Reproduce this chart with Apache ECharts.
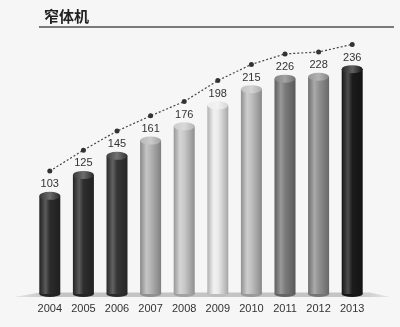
<!DOCTYPE html>
<html>
<head>
<meta charset="utf-8">
<script src="https://cdn.jsdelivr.net/npm/echarts@6/dist/echarts.min.js"></script>
<style>
  html, body { margin: 0; padding: 0; background: #f6f6f6; }
  #chart { width: 400px; height: 327px; }
</style>
</head>
<body>
<div id="chart"></div>
<script>
// Annual figures for narrow-body aircraft
const years = ['2004', '2005', '2006', '2007', '2008', '2009', '2010', '2011', '2012', '2013'];
const units = [103, 125, 145, 161, 176, 198, 215, 226, 228, 236];
const title = '窄体机';

// Grey tone of each cylinder
const tones = ['#2c2c2c', '#2e2e2e', '#363636', '#b4b4b4', '#c9c9c9', '#ececec', '#c0c0c0', '#7c7c7c', '#929292', '#1c1c1c'];

function mix(hex, target, t) {
  const n = parseInt(hex.slice(1), 16);
  const ch = [(n >> 16) & 255, (n >> 8) & 255, n & 255].map(v => Math.round(v + (target - v) * t));
  return 'rgb(' + ch.join(',') + ')';
}
function tube(c) {
  return new echarts.graphic.LinearGradient(0, 0, 1, 0, [
    { offset: 0, color: mix(c, 0, 0.25) },
    { offset: 0.3, color: mix(c, 255, 0.22) },
    { offset: 0.5, color: c },
    { offset: 0.85, color: mix(c, 0, 0.2) },
    { offset: 1, color: mix(c, 0, 0.3) }
  ]);
}
function cap(c) {
  return new echarts.graphic.LinearGradient(0, 0, 1, 0, [
    { offset: 0, color: mix(c, 255, 0.05) },
    { offset: 0.5, color: mix(c, 255, 0.3) },
    { offset: 1, color: mix(c, 0, 0.1) }
  ]);
}

const chart = echarts.init(document.getElementById('chart'));
const font = 'Arial, "Liberation Sans", sans-serif';
const AXIS_MAX = 275;
const LIFT = 26; // trend line sits above the cylinders

chart.setOption({
  backgroundColor: '#f6f6f6',
  animation: false,
  title: {
    text: title, left: 39, top: 4,
    textStyle: { fontFamily: '"Noto Sans CJK SC", sans-serif', fontSize: 15, fontWeight: 'bold', color: '#222' }
  },
  graphic: [
    { type: 'rect', shape: { x: 39, y: 26, width: 355, height: 2 }, style: { fill: '#7a7a7a' } },
    {
      type: 'polygon', z: 0,
      shape: { points: [[14, 297], [40, 292.5], [370, 292.5], [390, 297]] },
      style: {
        fill: new echarts.graphic.LinearGradient(0, 0, 1, 0, [
          { offset: 0, color: 'rgba(190,190,190,0.3)' },
          { offset: 0.1, color: '#c4c4c4' },
          { offset: 0.9, color: '#c4c4c4' },
          { offset: 1, color: 'rgba(190,190,190,0.3)' }
        ])
      }
    }
  ],
  grid: { left: 33, right: 31, top: 32, bottom: 33 },
  xAxis: {
    type: 'category', data: years,
    axisLine: { show: false }, axisTick: { show: false },
    axisLabel: { fontFamily: font, fontSize: 11, color: '#333', margin: 9 }
  },
  yAxis: [
    { type: 'value', min: 0, max: AXIS_MAX, show: false },
    { type: 'value', min: -LIFT, max: AXIS_MAX - LIFT, show: false }
  ],
  series: [
    {
      type: 'bar', barWidth: 21, z: 2,
      data: units.map((v, i) => ({ value: v, itemStyle: { color: tube(tones[i]) } })),
      label: { show: true, position: 'top', distance: 6, fontFamily: font, fontSize: 11, color: '#333' }
    },
    {
      type: 'pictorialBar', symbol: 'circle', symbolSize: [21, 8], symbolPosition: 'end',
      symbolOffset: [0, '-50%'], z: 3,
      data: units.map((v, i) => ({ value: v, itemStyle: { color: cap(tones[i]) } }))
    },
    {
      type: 'pictorialBar', symbol: 'circle', symbolSize: [21, 6], symbolPosition: 'start',
      symbolOffset: [0, '50%'], z: 1,
      data: units.map((v, i) => ({ value: v, itemStyle: { color: mix(tones[i], 0, 0.2) } }))
    },
    {
      type: 'line', yAxisIndex: 1, data: units, z: 4,
      symbol: 'circle', symbolSize: 5,
      lineStyle: { color: '#444', width: 1.2, type: [2, 2] },
      itemStyle: { color: '#333' }
    }
  ]
});
</script>
</body>
</html>
